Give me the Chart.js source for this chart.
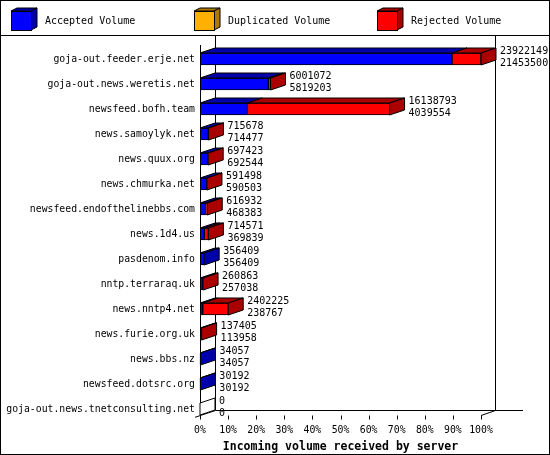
<!DOCTYPE html>
<html>
<head>
<meta charset="utf-8">
<title>Incoming volume received by server</title>
<script src="https://cdn.jsdelivr.net/npm/chart.js@4.4.1/dist/chart.umd.min.js"></script>
<style>
  html, body { margin: 0; padding: 0; background: #fff; }
  canvas { display: block; }
</style>
</head>
<body>
<canvas id="volumeChart" width="550" height="455"></canvas>
<script>
const servers = [
  'goja-out.feeder.erje.net',
  'goja-out.news.weretis.net',
  'newsfeed.bofh.team',
  'news.samoylyk.net',
  'news.quux.org',
  'news.chmurka.net',
  'newsfeed.endofthelinebbs.com',
  'news.1d4.us',
  'pasdenom.info',
  'nntp.terraraq.uk',
  'news.nntp4.net',
  'news.furie.org.uk',
  'news.bbs.nz',
  'newsfeed.dotsrc.org',
  'goja-out.news.tnetconsulting.net'
];
// offered (top number) and accepted (bottom number) as printed next to each bar
const offered = [23922149, 6001072, 16138793, 715678, 697423, 591498, 616932, 714571, 356409, 260863, 2402225, 137405, 34057, 30192, 0];
const accepted = [21453500, 5819203, 4039554, 714477, 692544, 590503, 468383, 369839, 356409, 257038, 238767, 113958, 34057, 30192, 0];
const duplicated = [0, 0, 0, 0, 0, 0, 0, 0, 0, 0, 0, 0, 0, 0, 0];
const rejected = [2468649, 181869, 12099239, 1201, 4879, 995, 148549, 344732, 0, 3825, 2163458, 23447, 0, 0, 0];
const tickLabels = ['0%', '10%', '20%', '30%', '40%', '50%', '60%', '70%', '80%', '90%', '100%'];

const maxOffered = Math.max(...offered);
const pct = arr => arr.map(v => v / maxOffered * 100);

const DX = 15, DY = 5;
const MONO = '"DejaVu Sans Mono", "Liberation Mono", monospace';

function poly(ctx, pts, fill) {
  ctx.beginPath();
  ctx.moveTo(pts[0][0], pts[0][1]);
  for (let i = 1; i < pts.length; i++) ctx.lineTo(pts[i][0], pts[i][1]);
  ctx.closePath();
  ctx.fillStyle = fill;
  ctx.fill();
  ctx.strokeStyle = '#000';
  ctx.lineWidth = 1;
  ctx.stroke();
}

function line(ctx, x1, y1, x2, y2) {
  ctx.beginPath();
  ctx.moveTo(x1, y1);
  ctx.lineTo(x2, y2);
  ctx.stroke();
}

const frame3d = {
  id: 'frame3d',
  beforeDraw(chart) {
    const ctx = chart.ctx;
    ctx.save();
    ctx.fillStyle = '#fff';
    ctx.fillRect(0, 0, chart.width, chart.height);
    ctx.restore();
  },
  beforeDatasetsDraw(chart) {
    // back wall and floor
    const ctx = chart.ctx;
    const x = chart.scales.x;
    const x0 = x.getPixelForValue(0), x1 = x.getPixelForValue(100);
    const fy = 415.5, by = 410.5;
    ctx.save();
    ctx.strokeStyle = '#000';
    ctx.lineWidth = 1;
    const bl = Math.round(x0 + DX) + 0.5, br = Math.round(x1 + DX) - 0.5;
    line(ctx, bl, 36, bl, by);
    line(ctx, br, 36, br, by);
    line(ctx, bl, by, 523, by);
    line(ctx, x0 - 5, fy + 1.8, bl, by);
    line(ctx, x1, fy, br, by);
    x.ticks.forEach(t => {
      const px = Math.round(x.getPixelForValue(t.value)) + 0.5;
      line(ctx, px, fy, px, fy + 4);
    });
    ctx.restore();
  },
  afterDatasetsDraw(chart) {
    const ctx = chart.ctx;
    const dsets = chart.data.datasets;
    ctx.save();
    ctx.strokeStyle = '#000';
    ctx.lineWidth = 1;
    line(ctx, 200.5, chart.chartArea.top - 1.5, 200.5, 417);
    servers.forEach((name, i) => {
      let last = -1;
      let endX = 0, yt = 0, yb = 0;
      dsets.forEach((ds, d) => {
        const el = chart.getDatasetMeta(d).data[i];
        const p = el.getProps(['x', 'y', 'base', 'height'], true);
        yt = p.y - p.height / 2;
        yb = p.y + p.height / 2;
        endX = p.x;
        if (ds.data[i] > 0) {
          poly(ctx, [[p.base, yt], [p.x, yt], [p.x + DX, yt - DY], [p.base + DX, yt - DY]], ds.darkColor);
          last = d;
        }
      });
      const side = last >= 0 ? dsets[last].darkColor : '#fff';
      poly(ctx, [[endX, yt], [endX + DX, yt - DY], [endX + DX, yb - DY], [endX, yb]], side);

      // printed values: offered over accepted
      ctx.fillStyle = '#000';
      ctx.font = '10px ' + MONO;
      ctx.textAlign = 'left';
      ctx.textBaseline = 'alphabetic';
      const tx = endX + DX + 4;
      const yc = (yt + yb) / 2;
      ctx.fillText(String(offered[i]), tx, yc - 5.5);
      ctx.fillText(String(accepted[i]), tx, yc + 6.5);
    });
    ctx.restore();
  },
  afterDraw(chart) {
    const ctx = chart.ctx;
    ctx.save();
    ctx.strokeStyle = '#000';
    ctx.lineWidth = 1;
    // legend band
    line(ctx, 0, 35.5, chart.width, 35.5);
    const lx = [11, 194, 377];
    chart.data.datasets.forEach((ds, d) => {
      const x = lx[d], y = 11, w = 20, h = 19, dx = 6, dy = 3;
      poly(ctx, [[x, y], [x + w, y], [x + w + dx, y - dy], [x + dx, y - dy]], ds.darkColor);
      poly(ctx, [[x + w, y], [x + w + dx, y - dy], [x + w + dx, y + h - dy], [x + w, y + h]], ds.darkColor);
      ctx.fillStyle = ds.backgroundColor;
      ctx.fillRect(x, y, w, h);
      ctx.strokeRect(x + 0.5, y + 0.5, w, h);
      ctx.fillStyle = '#000';
      ctx.font = '10px ' + MONO;
      ctx.textAlign = 'left';
      ctx.textBaseline = 'middle';
      ctx.fillText(ds.label, x + 34, 21);
    });
    ctx.strokeRect(0.5, 0.5, chart.width - 1, chart.height - 1);
    ctx.restore();
  }
};

new Chart(document.getElementById('volumeChart'), {
  type: 'bar',
  data: {
    labels: servers,
    datasets: [
      { label: 'Accepted Volume', data: pct(accepted), backgroundColor: '#0000ff', darkColor: '#0000aa' },
      { label: 'Duplicated Volume', data: pct(duplicated), backgroundColor: '#ffb000', darkColor: '#b07800' },
      { label: 'Rejected Volume', data: pct(rejected), backgroundColor: '#ff0000', darkColor: '#aa0000' }
    ]
  },
  options: {
    indexAxis: 'y',
    responsive: false,
    maintainAspectRatio: false,
    devicePixelRatio: 1,
    animation: false,
    events: [],
    layout: { padding: { top: 46.5, right: 69, bottom: 0, left: 0 } },
    datasets: {
      bar: { barThickness: 12, borderWidth: 1, borderColor: '#000', borderSkipped: false }
    },
    scales: {
      x: {
        stacked: true,
        min: 0,
        max: 100,
        grid: { display: false, drawTicks: false },
        border: { display: false },
        ticks: {
          stepSize: 10,
          padding: 3,
          autoSkip: false,
          maxRotation: 0,
          minRotation: 0,
          color: '#000',
          font: { family: MONO, size: 9.8 },
          callback: (v, i) => tickLabels[i]
        },
        title: {
          display: true,
          text: 'Incoming volume received by server',
          color: '#000',
          font: { family: MONO, size: 11.5, weight: 'bold' },
          padding: { top: 0, bottom: 1.5 }
        },
        afterFit: s => { s.height = 33.5; }
      },
      y: {
        stacked: true,
        grid: { display: false, drawTicks: false },
        border: { display: false },
        ticks: {
          autoSkip: false,
          padding: 5,
          color: '#000',
          font: { family: MONO, size: 9.8 }
        },
        afterFit: s => { s.width = 200; }
      }
    },
    plugins: {
      legend: { display: false },
      tooltip: { enabled: false }
    }
  },
  plugins: [frame3d]
});
</script>
</body>
</html>
